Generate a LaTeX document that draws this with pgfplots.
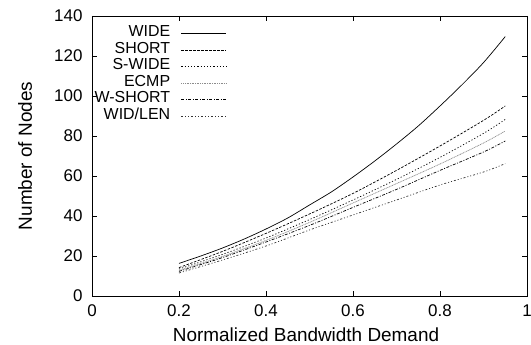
\documentclass[border=0pt]{standalone}
\usepackage{pgfplots}
\pgfplotsset{compat=1.18}
\usepackage{fontspec}
\setmainfont{Liberation Sans}
\begin{document}
\begin{tikzpicture}
\begin{axis}[
  scale only axis,
  width=435bp, height=280bp,
  xmin=0, xmax=1, ymin=0, ymax=140,
  xtick={0,0.2,0.4,0.6,0.8,1},
  ytick={0,20,40,60,80,100,120,140},
  xticklabels={0,0.2,0.4,0.6,0.8,1},
  tick align=inside,
  major tick length=5bp,
  tick style={line width=0.6bp, black},
  axis line style={line width=0.8bp},
  /pgf/number format/assume math mode=true,
  tick label style={font=\fontsize{17}{19}\selectfont},
  xticklabel style={yshift=-5bp},
  yticklabel style={xshift=-6bp},
  xlabel={Normalized Bandwidth Demand},
  ylabel={Number of Nodes},
  label style={font=\fontsize{19}{22}\selectfont},
  xlabel style={at={(axis description cs:0.492,-0.164)}, anchor=base},
  ylabel style={at={(axis description cs:-0.154,0.5)}, anchor=center},
  legend style={draw=none, fill=none, inner sep=0pt, outer sep=0pt,
    at={(axis description cs:0.31,0.968)}, anchor=north east,
    font=\fontsize{16}{16}\selectfont,
    nodes={inner sep=0pt, text height=11.6bp, text depth=5bp},
    column sep=11bp},
  legend plot pos=right,
  legend cell align=right,
  legend image code/.code={\draw[#1] (0bp,0bp) -- (45bp,0bp);},
  every axis plot/.append style={line width=0.7bp, smooth},
]
\addplot[black, solid] coordinates {
(0.2,16.3)(0.25,20)(0.3,24)(0.35,28.5)(0.4,33.5)(0.45,39)(0.5,45.5)(0.55,52)
(0.6,59.5)(0.65,67.5)(0.7,76)(0.75,85)(0.8,95)(0.85,105.5)(0.9,116.7)(0.95,129.7)};
\addlegendentry{WIDE}
\addplot[black, dash pattern=on 2.5bp off 1.5bp] coordinates {
(0.2,14.2)(0.3,22.3)(0.4,31.3)(0.5,41)(0.6,51.3)(0.7,62.8)(0.8,75)(0.9,87.8)(0.95,95)};
\addlegendentry{SHORT}
\addplot[black, dash pattern=on 1.2bp off 2bp] coordinates {
(0.2,13.5)(0.3,20.8)(0.4,29)(0.5,38.2)(0.6,48)(0.7,58.3)(0.8,69.3)(0.9,81.3)(0.95,88.3)};
\addlegendentry{S-WIDE}
\addplot[black!45, dash pattern=on 1bp off 0.7bp] coordinates {
(0.2,12.8)(0.3,19.8)(0.4,27.8)(0.5,36.8)(0.6,46.5)(0.7,56.2)(0.8,66)(0.9,76.5)(0.95,82.5)};
\addlegendentry{ECMP}
\addplot[black, dash pattern=on 3bp off 1.5bp on 1bp off 1.5bp] coordinates {
(0.2,12.3)(0.3,19.2)(0.4,27)(0.5,35.3)(0.6,44.3)(0.7,53.3)(0.8,62.8)(0.9,72)(0.95,77.5)};
\addlegendentry{W-SHORT}
\addplot[black!80, dash pattern=on 2bp off 2bp on 1bp off 2bp on 1bp off 2bp] coordinates {
(0.2,11.5)(0.3,18)(0.4,25)(0.5,33)(0.6,40.5)(0.7,48)(0.8,55.5)(0.9,62)(0.95,66.2)};
\addlegendentry{WID/LEN}
\end{axis}
\pgfresetboundingbox
\path[use as bounding box] (-92bp,-49bp) rectangle (439bp,296bp);
\end{tikzpicture}
\end{document}
